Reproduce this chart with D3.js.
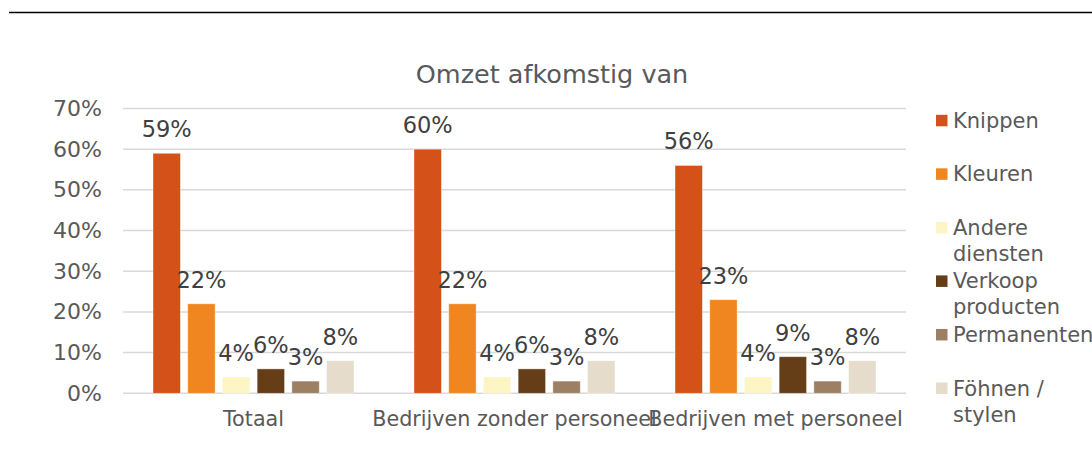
<!DOCTYPE html>
<html>
<head>
<meta charset="utf-8">
<script src="https://cdn.jsdelivr.net/npm/d3@7"></script>
<style>
  html, body { margin: 0; padding: 0; background: #fff; }
  svg { display: block; font-family: "DejaVu Sans", Verdana, sans-serif; }
</style>
</head>
<body>
<svg id="chart" width="1092" height="463"></svg>
<script>
// Revenue share per activity, by company type
const categories = ["Totaal", "Bedrijven zonder personeel", "Bedrijven met personeel"];
const seriesNames = ["Knippen", "Kleuren", "Andere diensten", "Verkoop producten", "Permanenten", "Föhnen / stylen"];
const legendLines = [["Knippen"], ["Kleuren"], ["Andere", "diensten"], ["Verkoop", "producten"], ["Permanenten"], ["Föhnen /", "stylen"]];
const seriesColors = ["#d4511a", "#f0861f", "#fdf5c3", "#653d17", "#9d8064", "#e6dccc"];
const knippen = [59, 60, 56];
const kleuren = [22, 22, 23];
const andereDiensten = [4, 4, 4];
const verkoopProducten = [6, 6, 9];
const permanenten = [3, 3, 3];
const fohnenStylen = [8, 8, 8];
const yTicks = [0, 10, 20, 30, 40, 50, 60, 70];
const title = "Omzet afkomstig van";

const seriesValues = [knippen, kleuren, andereDiensten, verkoopProducten, permanenten, fohnenStylen];

const svg = d3.select("#chart");
const W = 1092, H = 463;
const plot = { left: 123, right: 906, top: 108.5, bottom: 393.3 };

// rule across the top of the page
svg.append("line")
  .attr("x1", 9).attr("x2", W).attr("y1", 12.5).attr("y2", 12.5)
  .attr("stroke", "#000").attr("stroke-width", 1.3);

const y = d3.scaleLinear().domain([0, 70]).range([plot.bottom, plot.top]);
const x0 = d3.scaleBand().domain(categories).range([plot.left, plot.right]).padding(0);
const x1 = d3.scaleBand().domain(seriesNames)
  .range([30, x0.bandwidth() - 30]).paddingInner(0.21).paddingOuter(0);

// gridlines
svg.append("g").selectAll("line").data(yTicks).join("line")
  .attr("x1", plot.left).attr("x2", plot.right)
  .attr("y1", d => y(d)).attr("y2", d => y(d))
  .attr("stroke", "#d9d9d9").attr("stroke-width", 1.5);

// y axis labels
const yAxis = svg.append("g")
  .attr("transform", `translate(${plot.left},0)`)
  .call(d3.axisLeft(y).tickValues(yTicks).tickSize(0).tickPadding(21).tickFormat(d => d + "%"));
yAxis.select(".domain").remove();
yAxis.selectAll("text")
  .attr("font-family", "DejaVu Sans, Verdana, sans-serif")
  .attr("font-size", 22).attr("fill", "#595959");

// x axis labels
const xAxis = svg.append("g")
  .attr("transform", `translate(0,${plot.bottom})`)
  .call(d3.axisBottom(x0).tickSize(0).tickPadding(18));
xAxis.select(".domain").remove();
xAxis.selectAll("text")
  .attr("font-family", "DejaVu Sans, Verdana, sans-serif")
  .attr("font-size", 20.7).attr("fill", "#595959");

// bars
const rows = categories.map((c, ci) => seriesNames.map((s, si) => ({ cat: c, series: s, si, value: seriesValues[si][ci] })));
const groups = svg.append("g").selectAll("g").data(rows).join("g")
  .attr("transform", (d, i) => `translate(${x0(categories[i])},0)`);

groups.selectAll("rect").data(d => d).join("rect")
  .attr("x", d => x1(d.series))
  .attr("width", x1.bandwidth())
  .attr("y", d => y(d.value))
  .attr("height", d => y(0) - y(d.value))
  .attr("fill", d => seriesColors[d.si])
  .attr("stroke", "#ffffff").attr("stroke-opacity", 0.5).attr("stroke-width", 0.8);

groups.selectAll("text").data(d => d).join("text")
  .attr("x", d => x1(d.series) + x1.bandwidth() / 2)
  .attr("y", d => y(d.value) - 16)
  .attr("text-anchor", "middle")
  .attr("font-size", 22.5).attr("fill", "#404040")
  .text(d => d.value + "%");

// title
svg.append("text")
  .attr("x", 552).attr("y", 83)
  .attr("text-anchor", "middle")
  .attr("font-size", 25.5).attr("fill", "#595959")
  .text(title);

// legend
const ly = d3.scalePoint().domain(seriesNames).range([120.3, 388]);
const legend = svg.append("g").selectAll("g").data(seriesNames).join("g")
  .attr("transform", d => `translate(936,${ly(d)})`);
legend.append("rect")
  .attr("x", 0).attr("y", -5.5).attr("width", 11.5).attr("height", 11.5)
  .attr("fill", (d, i) => seriesColors[i]);
legend.append("text")
  .attr("font-size", 21).attr("fill", "#595959")
  .selectAll("tspan").data((d, i) => legendLines[i]).join("tspan")
  .attr("x", 17).attr("y", (d, j) => j * 26 + 7.5)
  .text(d => d);
</script>
</body>
</html>
